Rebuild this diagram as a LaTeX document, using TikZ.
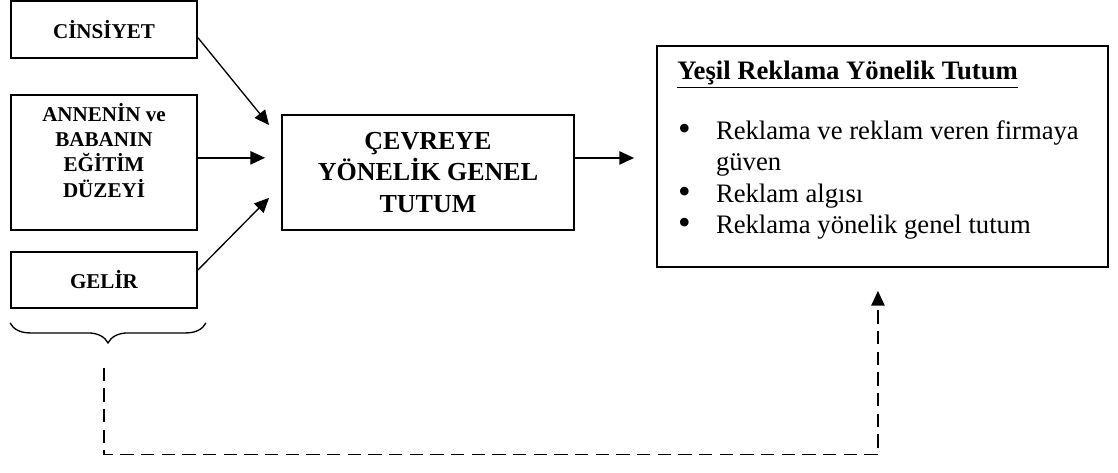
\documentclass[tikz,border=0pt]{standalone}
\usepackage{fontspec}
\setmainfont{Liberation Serif}
\usetikzlibrary{arrows.meta,positioning,decorations.pathreplacing}

\begin{document}
\begin{tikzpicture}[
x=0.75pt,y=-0.75pt,
lbox/.style={draw,line width=1.4pt,minimum width=139.5pt,align=center,inner sep=0pt,font=\bfseries\fontsize{15.8}{18.8}\selectfont},
ltext/.style={align=center,inner sep=0pt,font=\bfseries\fontsize{15.8}{18.8}\selectfont},
cbox/.style={draw,line width=1.4pt,minimum width=219pt,minimum height=86.25pt,align=center,inner sep=0pt,font=\bfseries\fontsize{19.5}{23.3}\selectfont},
rbox/.style={draw,line width=1.4pt,minimum width=338.25pt,minimum height=165.75pt,inner sep=0pt},
rtext/.style={align=left,inner sep=0pt,font=\fontsize{20}{23.5}\selectfont},
arr/.style={-{Triangle[length=11pt,width=10pt]},line width=1pt},
dashline/.style={dash pattern=on 10pt off 5.5pt,line width=1.1pt},
bracestyle/.style={decorate,decoration={brace,mirror,amplitude=15pt},line width=1pt}
]
\newcommand{\blt}{\makebox[29pt][l]{\hspace{0.5pt}\raisebox{-0.8pt}[0pt][0pt]{\scalebox{1.35}{\textbullet}}}}
\useasboundingbox (0,0) rectangle (1118,472);
\node[lbox,minimum height=42.75pt] (cins) at (104,29.5) {CİNSİYET};
\node[lbox,minimum height=101.25pt] (egitim) at (104,162.5) {};
\node[ltext] (egitimtxt) at ([yshift=9pt]egitim.center) {ANNENİN ve\\BABANIN\\EĞİTİM\\DÜZEYİ};
\node[lbox,minimum height=42pt] (gelir) at (104,280) {GELİR};
\node[cbox] (genel) at (428,172.5) {ÇEVREYE\\YÖNELİK GENEL\\TUTUM};
\node[rbox] (tutum) at (882.5,156.5) {};
\node[rtext,anchor=north west] (tutumtxt) at ([xshift=15.75pt,yshift=-11.8pt]tutum.north west) {\underline{\textbf{Yeşil Reklama Yönelik Tutum}}\\[21.5pt]
\blt Reklama ve reklam veren firmaya\\
\hspace*{29pt}güven\\
\blt Reklam algısı\\
\blt Reklama yönelik genel tutum};
\coordinate (in1) at ([xshift=-9pt,yshift=35.6pt]genel.west);
\coordinate (in2) at ([xshift=-12pt,yshift=11pt]genel.west);
\coordinate (in3) at ([xshift=-9pt,yshift=-19pt]genel.west);
\coordinate (out) at ([xshift=-16.5pt,yshift=-1.1pt]tutum.west);
\coordinate (dstart) at ([yshift=-44pt]gelir.south);
\coordinate (dend) at ([xshift=-3.4pt,yshift=-17.25pt]tutum.south);
\draw[arr] (cins.-5) -- (in1);
\draw[arr] (egitim.east |- in2) -- (in2);
\draw[arr] ([yshift=7.5pt]gelir.east) -- (in3);
\draw[arr] (genel.east |- out) -- (out);
\draw[bracestyle] ([yshift=-10.5pt]gelir.south west) -- ([xshift=6pt,yshift=-10.5pt]gelir.south east);
\draw[dashline,-{Triangle[length=11pt,width=10pt]}] (dstart) -- ++(0,87) -| (dend);
\end{tikzpicture}
\end{document}
